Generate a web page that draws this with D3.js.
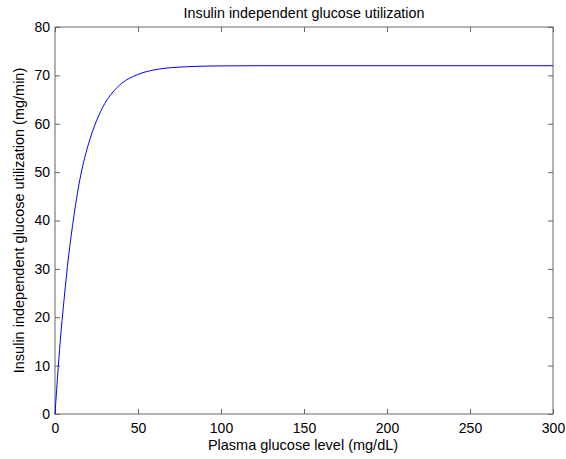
<!DOCTYPE html>
<html><head><meta charset="utf-8">
<script src="https://cdn.jsdelivr.net/npm/d3@7"></script>
<style>body{margin:0;background:#fff}svg{display:block}text{font-family:"Liberation Sans",Arial,sans-serif;fill:#000}</style>
</head><body>
<svg id="c" width="566" height="459"></svg>
<script>
const glucose = [0, 1, 2, 3.5, 5, 7.5, 11, 15, 20, 25, 30, 35, 40, 50, 60, 70, 80, 100, 125, 150, 200, 250, 300];
const utilization = [0, 5.1, 9.9, 16.5, 22, 30.5, 40, 48.5, 55.6, 60.6, 64.2, 66.6, 68.3, 70.2, 71.15, 71.6, 71.8, 71.96, 72, 72, 72, 72, 72];
const xTicks = [0, 50, 100, 150, 200, 250, 300];
const yTicks = [0, 10, 20, 30, 40, 50, 60, 70, 80];

const svg = d3.select("#c");
const L = 55, R = 553, T = 27, B = 414;
const x = d3.scaleLinear().domain([0, 300]).range([L, R]);
const y = d3.scaleLinear().domain([0, 80]).range([B, T]);
const axCol = "#666";
const fs = "14px";

svg.append("rect").attr("x", L).attr("y", T).attr("width", R - L).attr("height", B - T)
  .attr("fill", "none").attr("stroke", axCol).attr("stroke-width", 1);

function styleAxis(g) {
  g.select(".domain").remove();
  g.selectAll(".tick line").attr("stroke", axCol);
  g.selectAll(".tick text").style("font-size", fs);
}
const tl = 5;
svg.append("g").attr("transform", `translate(0,${B})`)
  .call(d3.axisBottom(x).tickValues(xTicks).tickSize(-tl).tickPadding(9).tickFormat(d3.format("d")))
  .call(styleAxis);
svg.append("g").attr("transform", `translate(0,${T})`)
  .call(d3.axisTop(x).tickValues(xTicks).tickSize(-tl).tickFormat(""))
  .call(styleAxis);
svg.append("g").attr("transform", `translate(${L},0)`)
  .call(d3.axisLeft(y).tickValues(yTicks).tickSize(-tl).tickPadding(5).tickFormat(d3.format("d")))
  .call(styleAxis);
svg.append("g").attr("transform", `translate(${R},0)`)
  .call(d3.axisRight(y).tickValues(yTicks).tickSize(-tl).tickFormat(""))
  .call(styleAxis);

const pts = glucose.map((g, i) => [g, utilization[i]]);
svg.append("path").datum(pts)
  .attr("fill", "none").attr("stroke", "#0000ff").attr("stroke-width", 1)
  .attr("d", d3.line().x(d => x(d[0])).y(d => y(d[1])).curve(d3.curveMonotoneX));

svg.append("text").attr("x", 304).attr("y", 18).attr("text-anchor", "middle")
  .style("font-size", "14.3px").text("Insulin independent glucose utilization");
svg.append("text").attr("x", 303).attr("y", 450).attr("text-anchor", "middle")
  .style("font-size", "14.5px").text("Plasma glucose level (mg/dL)");
svg.append("text").attr("transform", `translate(24,${(T + B) / 2}) rotate(-90)`).attr("text-anchor", "middle")
  .style("font-size", "14.5px").text("Insulin independent glucose utilization (mg/min)");
</script>
</body></html>
